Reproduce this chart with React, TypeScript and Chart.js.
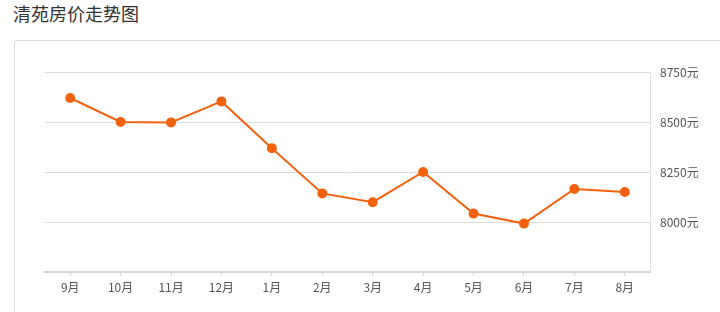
import React, { useEffect, useRef } from "react";
import { Chart, registerables } from "chart.js";

Chart.register(...registerables);

const months = ["9月", "10月", "11月", "12月", "1月", "2月", "3月", "4月", "5月", "6月", "7月", "8月"];
const prices = [8620, 8500, 8498, 8603, 8369, 8143, 8099, 8250, 8042, 7992, 8165, 8150];
const yTicks = [8000, 8250, 8500, 8750];
const title = "清苑房价走势图";

const FONT = "'Noto Sans CJK SC', 'Microsoft YaHei', sans-serif";

export default function App() {
  const ref = useRef<HTMLCanvasElement>(null);
  useEffect(() => {
    const cv = ref.current!;
    const chart = new Chart(cv, {
      type: "line",
      data: {
        labels: months,
        datasets: [
          {
            data: prices,
            borderColor: "#f2620f",
            backgroundColor: "#f2620f",
            borderWidth: 2,
            pointRadius: 4,
            pointHoverRadius: 4,
            pointBackgroundColor: "#f2620f",
            pointBorderColor: "#f2620f",
            tension: 0,
            fill: false,
          },
        ],
      },
      options: {
        responsive: false,
        animation: false,
        devicePixelRatio: 1,
        layout: { padding: { left: 45, top: 72, right: 0, bottom: 0 } },
        plugins: { legend: { display: false }, tooltip: { enabled: false } },
        scales: {
          x: {
            type: "category",
            offset: true,
            border: { display: true, color: "#d4d4d4", width: 2 },
            grid: {
              display: true,
              drawOnChartArea: false,
              drawTicks: true,
              tickLength: 4,
              offset: false,
              color: "#d4d4d4",
            },
            ticks: {
              color: "#555",
              font: { family: FONT, size: 12 },
              padding: 4,
              maxRotation: 0,
              autoSkip: false,
            },
            afterFit: (s: any) => {
              s.height = 40;
            },
          },
          y: {
            position: "right",
            min: 7750,
            max: 8750,
            border: { display: true, color: "#dcdcdc", width: 1 },
            grid: { color: "#dcdcdc", drawTicks: false, lineWidth: 1 },
            afterBuildTicks: (s: any) => {
              s.ticks = yTicks.map((v) => ({ value: v }));
            },
            ticks: {
              color: "#555",
              font: { family: FONT, size: 12 },
              padding: 10,
              callback: (v: any) => v + "元",
            },
            afterFit: (s: any) => {
              s.width = 70;
            },
          },
        },
      },
    });
    return () => chart.destroy();
  }, []);

  return (
    <div style={{ position: "fixed", left: 0, top: 0, width: 720, height: 312, overflow: "hidden", background: "#fff" }}>
      <div
        style={{
          position: "absolute",
          left: 13,
          top: 2,
          fontFamily: FONT,
          fontSize: 18,
          color: "#333",
          lineHeight: "22px",
        }}
      >
        {title}
      </div>
      <div
        style={{
          position: "absolute",
          left: 14,
          top: 40,
          width: 740,
          height: 320,
          border: "1px solid #dcdcdc",
          borderRadius: 3,
          boxSizing: "border-box",
        }}
      />
      <canvas ref={ref} width={720} height={312} style={{ position: "absolute", left: 0, top: 0, width: 720, height: 312 }} />
    </div>
  );
}
